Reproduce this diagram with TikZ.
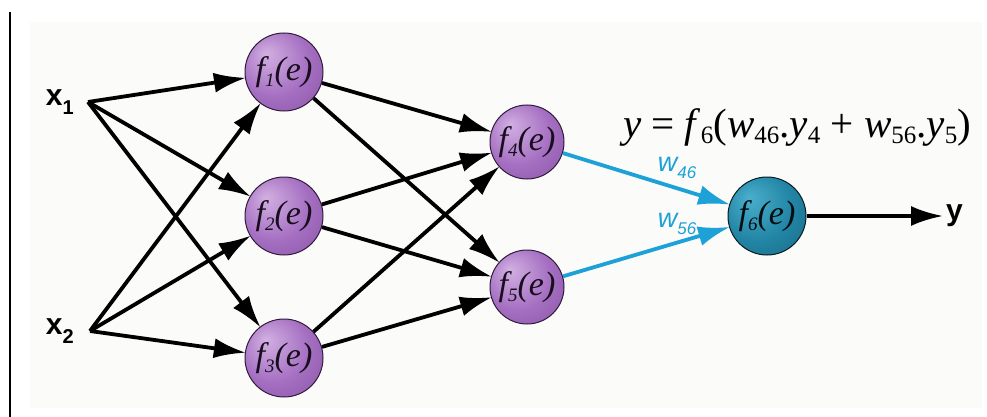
\documentclass[tikz,border=0pt]{standalone}
\usepackage{fontspec}
\setmainfont{Liberation Serif}
\setsansfont{Liberation Sans}
\usetikzlibrary{arrows.meta}
\definecolor{pl}{HTML}{D2B0E2}
\definecolor{pm}{HTML}{A670C2}
\definecolor{pd}{HTML}{7A4498}
\definecolor{tl}{HTML}{4AAFCC}
\definecolor{tm}{HTML}{2386A6}
\definecolor{td}{HTML}{145A72}
\definecolor{cyanarr}{HTML}{1DA1D6}
\definecolor{bgc}{HTML}{FBFBFA}
\pgfdeclareradialshading{purpball}{\pgfpoint{-12bp}{12bp}}{color(0bp)=(pl);color(22bp)=(pm);color(50bp)=(pd)}
\pgfdeclareradialshading{tealball}{\pgfpoint{-12bp}{12bp}}{color(0bp)=(tl);color(22bp)=(tm);color(50bp)=(td)}
\tikzset{
  neuron/.style={circle, minimum size=78pt, inner sep=0pt, draw=black!60!pd, line width=1pt, shading=purpball, text=black!80!pd, font=\itshape\fontsize{34}{34}\selectfont},
  outneuron/.style={neuron, shading=tealball, draw=black!70!td, text=black!85!td},
  conn/.style={line width=3.8pt, -{Latex[length=32pt,width=20pt]}, shorten >=-1pt},
  wconn/.style={conn, draw=cyanarr},
  inlab/.style={font=\sffamily\bfseries\fontsize{30}{30}\selectfont, inner sep=0pt},
  wlab/.style={text=cyanarr, font=\sffamily\itshape\fontsize{27}{27}\selectfont, inner sep=0pt}
}
\newcommand{\fsub}[1]{\raisebox{-6pt}{\fontsize{19}{19}\selectfont #1}}
\newcommand{\esub}[1]{\raisebox{-6pt}{\fontsize{25}{25}\selectfont #1}}
\begin{document}
\begin{tikzpicture}[x=1pt,y=-1pt]
\useasboundingbox (0,0) rectangle (987,417);
\fill[bgc] (30,22) rectangle (982,408);
\draw[line width=2pt] (10,12) -- (10,417);

\node[neuron] (f1) at (284,72) {f\fsub{1}(e)};
\node[neuron] (f2) at (284,216) {f\fsub{2}(e)};
\node[neuron] (f3) at (284,358) {f\fsub{3}(e)};
\node[neuron, minimum size=74pt] (f4) at (527,142) {f\fsub{4}(e)};
\node[neuron, minimum size=74pt] (f5) at (527,287) {f\fsub{5}(e)};
\node[outneuron] (f6) at (767,216) {f\fsub{6}(e)};

\coordinate (s1) at (88,102);
\coordinate (s2) at (90,331);
\coordinate (yend) at (942,216);
\node[inlab, anchor=east] (x1) at (74,102) {x\raisebox{-9pt}{\fontsize{20}{20}\selectfont 1}};
\node[inlab, anchor=east] (x2) at (74,331) {x\raisebox{-9pt}{\fontsize{20}{20}\selectfont 2}};
\node[inlab, anchor=west] (ylab) at (946,216) {y};

\foreach \s in {s1,s2}{
  \foreach \t in {f1,f2,f3}{
    \draw[conn] (\s) -- (\t);
  }
}
\foreach \s in {f1,f2,f3}{
  \foreach \t in {f4,f5}{
    \draw[conn] (\s) -- (\t);
  }
}
\draw[wconn] (f4) -- (f6);
\draw[wconn] (f5) -- (f6);
\draw[conn] (f6) -- (yend);

\node[wlab] (w46) at (677,168) {w\raisebox{-7pt}{\fontsize{17}{17}\selectfont 46}};
\node[wlab] (w56) at (677,224) {w\raisebox{-7pt}{\fontsize{17}{17}\selectfont 56}};

\node[font=\fontsize{41}{41}\selectfont, inner sep=0pt] (eq) at (797,127)
 {\textit{y} = \textit{f}\esub{6}(\textit{w}\esub{46}.\textit{y}\esub{4} + \textit{w}\esub{56}.\textit{y}\esub{5})};
\end{tikzpicture}
\end{document}
